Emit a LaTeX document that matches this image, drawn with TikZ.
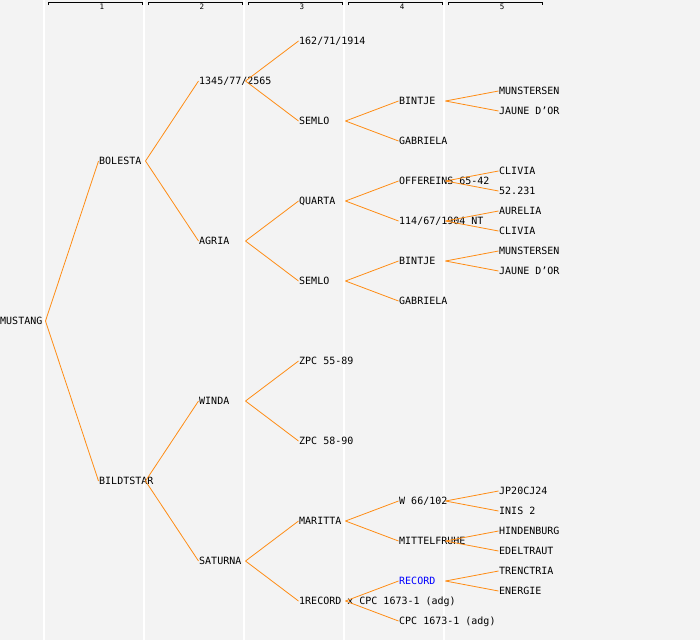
\documentclass[tikz,border=0pt]{standalone}
\usepackage{fontspec}
\newfontfamily\pedfont{DejaVu Sans Mono}
\usetikzlibrary{positioning}

\definecolor{pedback}{RGB}{243,243,243}
\definecolor{pedline}{RGB}{255,140,20}

\tikzstyle{plant} = [anchor=west, inner sep=0.5pt, text height=7.3pt, text depth=0pt, font=\pedfont\fontsize{10}{12}\selectfont]
\tikzstyle{link} = [draw=pedline, line width=0.8pt]
\tikzstyle{colsep} = [draw=white, line width=2pt]
\tikzstyle{bracket} = [draw=black, line width=1pt]
\tikzstyle{gen} = [inner sep=0pt, font=\pedfont\fontsize{7.5}{8}\selectfont]

\begin{document}
\begin{tikzpicture}[x=1pt, y=-1pt]
  \useasboundingbox (0,0) rectangle (700,640);
  \fill [pedback] (0,0) rectangle (700,640);

  % column separators
  \draw [colsep] (44,0) -- (44,640);
  \draw [colsep] (144,0) -- (144,640);
  \draw [colsep] (244,0) -- (244,640);
  \draw [colsep] (344,0) -- (344,640);
  \draw [colsep] (444,0) -- (444,640);
  \coordinate (col1) at (45.5,0);
  \coordinate (col2) at (145.5,0);
  \coordinate (col3) at (245.5,0);
  \coordinate (col4) at (345.5,0);
  \coordinate (col5) at (445.5,0);

  % generation header
  \draw [bracket] (48,5) -- (48,2) -- (142,2) -- (142,5);
  \draw [bracket] (148,5) -- (148,2) -- (242,2) -- (242,5);
  \draw [bracket] (248,5) -- (248,2) -- (342,2) -- (342,5);
  \draw [bracket] (348,5) -- (348,2) -- (442,2) -- (442,5);
  \draw [bracket] (448,5) -- (448,2) -- (542,2) -- (542,5);
  \node (Gen 1) [gen] at (102,6.5) {1};
  \node (Gen 2) [gen] at (202,6.5) {2};
  \node (Gen 3) [gen] at (302,6.5) {3};
  \node (Gen 4) [gen] at (402,6.5) {4};
  \node (Gen 5) [gen] at (502,6.5) {5};

  % generation 0 and 1
  \node (Mustang) [plant] at (-0.5,321) {MUSTANG};
  \node (Bolesta) [plant] at (98.5,161) {BOLESTA};
  \node (Bildtstar) [plant] at (98.5,481) {BILDTSTAR};

  % generation 2
  \node (1345) [plant] at (198.5,81) {1345/77/2565};
  \node (Agria) [plant] at (198.5,241) {AGRIA};
  \node (Winda) [plant] at (198.5,401) {WINDA};
  \node (Saturna) [plant] at (198.5,561) {SATURNA};

  % generation 3
  \node (162) [plant] at (298.5,41) {162/71/1914};
  \node (Semlo A) [plant] at (298.5,121) {SEMLO};
  \node (Quarta) [plant] at (298.5,201) {QUARTA};
  \node (Semlo B) [plant] at (298.5,281) {SEMLO};
  \node (ZPC 55) [plant] at (298.5,361) {ZPC 55-89};
  \node (ZPC 58) [plant] at (298.5,441) {ZPC 58-90};
  \node (Maritta) [plant] at (298.5,521) {MARITTA};
  \node (1Record) [plant] at (298.5,601) {1RECORD x CPC 1673-1 (adg)};

  % generation 4
  \node (Bintje A) [plant] at (398.5,101) {BINTJE};
  \node (Gabriela A) [plant] at (398.5,141) {GABRIELA};
  \node (Offereins) [plant] at (398.5,181) {OFFEREINS 65-42};
  \node (114) [plant] at (398.5,221) {114/67/1904 NT};
  \node (Bintje B) [plant] at (398.5,261) {BINTJE};
  \node (Gabriela B) [plant] at (398.5,301) {GABRIELA};
  \node (W 66) [plant] at (398.5,501) {W 66/102};
  \node (Mittelfruhe) [plant] at (398.5,541) {MITTELFRUHE};
  \node (Record) [plant, text=blue] at (398.5,581) {RECORD};
  \node (CPC) [plant] at (398.5,621) {CPC 1673-1 (adg)};

  % generation 5
  \node (Munstersen A) [plant] at (498.5,91) {MUNSTERSEN};
  \node (Jaune A) [plant] at (498.5,111) {JAUNE D’OR};
  \node (Clivia A) [plant] at (498.5,171) {CLIVIA};
  \node (52231) [plant] at (498.5,191) {52.231};
  \node (Aurelia) [plant] at (498.5,211) {AURELIA};
  \node (Clivia B) [plant] at (498.5,231) {CLIVIA};
  \node (Munstersen B) [plant] at (498.5,251) {MUNSTERSEN};
  \node (Jaune B) [plant] at (498.5,271) {JAUNE D’OR};
  \node (JP20) [plant] at (498.5,491) {JP20CJ24};
  \node (Inis) [plant] at (498.5,511) {INIS 2};
  \node (Hindenburg) [plant] at (498.5,531) {HINDENBURG};
  \node (Edeltraut) [plant] at (498.5,551) {EDELTRAUT};
  \node (Trenctria) [plant] at (498.5,571) {TRENCTRIA};
  \node (Energie) [plant] at (498.5,591) {ENERGIE};

  \draw [link] (Mustang -| col1) -- (Bolesta.west);
  \draw [link] (Mustang -| col1) -- (Bildtstar.west);
  \draw [link] (Bolesta -| col2) -- (1345.west);
  \draw [link] (Bolesta -| col2) -- (Agria.west);
  \draw [link] (Bildtstar -| col2) -- (Winda.west);
  \draw [link] (Bildtstar -| col2) -- (Saturna.west);
  \draw [link] (1345 -| col3) -- (162.west);
  \draw [link] (1345 -| col3) -- (Semlo A.west);
  \draw [link] (Agria -| col3) -- (Quarta.west);
  \draw [link] (Agria -| col3) -- (Semlo B.west);
  \draw [link] (Winda -| col3) -- (ZPC 55.west);
  \draw [link] (Winda -| col3) -- (ZPC 58.west);
  \draw [link] (Saturna -| col3) -- (Maritta.west);
  \draw [link] (Saturna -| col3) -- (1Record.west);
  \draw [link] (Semlo A -| col4) -- (Bintje A.west);
  \draw [link] (Semlo A -| col4) -- (Gabriela A.west);
  \draw [link] (Quarta -| col4) -- (Offereins.west);
  \draw [link] (Quarta -| col4) -- (114.west);
  \draw [link] (Semlo B -| col4) -- (Bintje B.west);
  \draw [link] (Semlo B -| col4) -- (Gabriela B.west);
  \draw [link] (Maritta -| col4) -- (W 66.west);
  \draw [link] (Maritta -| col4) -- (Mittelfruhe.west);
  \draw [link] (1Record -| col4) -- (Record.west);
  \draw [link] (1Record -| col4) -- (CPC.west);
  \draw [link] (Bintje A -| col5) -- (Munstersen A.west);
  \draw [link] (Bintje A -| col5) -- (Jaune A.west);
  \draw [link] (Offereins -| col5) -- (Clivia A.west);
  \draw [link] (Offereins -| col5) -- (52231.west);
  \draw [link] (114 -| col5) -- (Aurelia.west);
  \draw [link] (114 -| col5) -- (Clivia B.west);
  \draw [link] (Bintje B -| col5) -- (Munstersen B.west);
  \draw [link] (Bintje B -| col5) -- (Jaune B.west);
  \draw [link] (W 66 -| col5) -- (JP20.west);
  \draw [link] (W 66 -| col5) -- (Inis.west);
  \draw [link] (Mittelfruhe -| col5) -- (Hindenburg.west);
  \draw [link] (Mittelfruhe -| col5) -- (Edeltraut.west);
  \draw [link] (Record -| col5) -- (Trenctria.west);
  \draw [link] (Record -| col5) -- (Energie.west);
\end{tikzpicture}
\end{document}
